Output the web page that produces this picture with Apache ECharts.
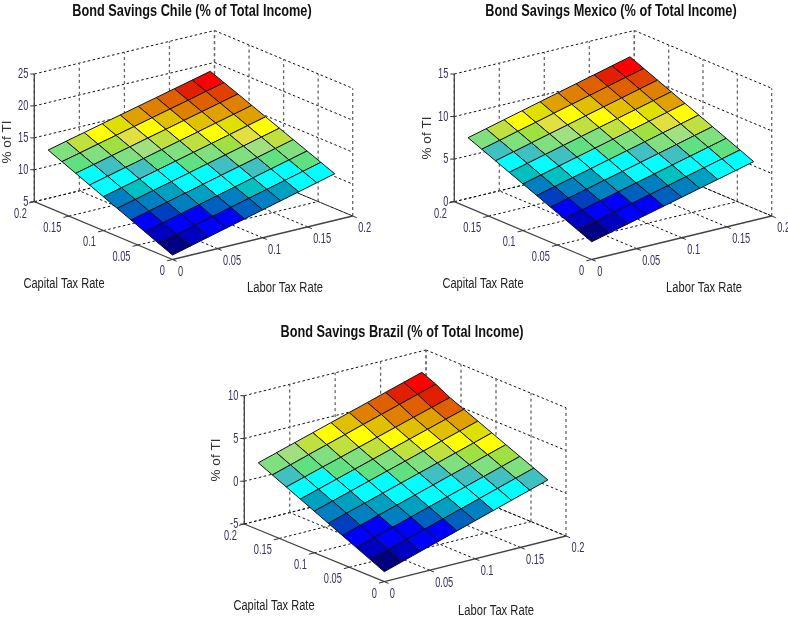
<!DOCTYPE html>
<html><head><meta charset="utf-8">
<style>html,body{margin:0;padding:0;background:#fff}#c{width:788px;height:618px}</style>
<script src="https://cdn.jsdelivr.net/npm/echarts@6/dist/echarts.min.js"></script>
</head><body><div id="c"></div>
<script>
// Axis ticks
const capTicks = [0, 0.05, 0.1, 0.15, 0.2];
const labTicks = [0, 0.05, 0.1, 0.15, 0.2];
const tickText = ['0', '0.05', '0.1', '0.15', '0.2'];
const rates = [0, 0.02, 0.04, 0.06, 0.08, 0.1, 0.12, 0.14, 0.16, 0.18];
const chileTicks = [5, 10, 15, 20, 25];
const mexicoTicks = [0, 5, 10, 15];
const brazilTicks = [-5, 0, 5, 10];
// Surface heights: one row per capital tax rate, one column per labor tax rate
const chileZ = [
[5.7,6.43,7.17,7.9,8.63,9.37,10.1,10.83,11.57,12.3],
[6.62,7.35,8.08,8.81,9.54,10.27,10.99,11.72,12.45,13.18],
[7.54,8.26,8.99,9.71,10.44,11.16,11.89,12.61,13.33,14.06],
[8.47,9.19,9.9,10.62,11.34,12.06,12.77,13.49,14.21,14.93],
[9.39,10.1,10.82,11.53,12.24,12.96,13.67,14.38,15.1,15.81],
[10.31,11.02,11.73,12.44,13.15,13.85,14.56,15.27,15.98,16.69],
[11.23,11.93,12.64,13.34,14.05,14.75,15.45,16.16,16.86,17.57],
[12.16,12.86,13.56,14.26,14.96,15.65,16.35,17.05,17.75,18.45],
[13.08,13.77,14.47,15.16,15.85,16.55,17.24,17.93,18.63,19.32],
[14,14.69,15.38,16.07,16.76,17.44,18.13,18.82,19.51,20.2]];
const mexicoZ = [
[2.08,2.62,3.15,3.69,4.22,4.76,5.29,5.83,6.36,6.9],
[2.76,3.3,3.83,4.37,4.91,5.44,5.98,6.52,7.05,7.59],
[3.44,3.98,4.52,5.05,5.59,6.13,6.67,7.2,7.74,8.28],
[4.12,4.66,5.2,5.74,6.27,6.81,7.35,7.89,8.43,8.97],
[4.8,5.34,5.88,6.42,6.96,7.5,8.04,8.58,9.12,9.66],
[5.48,6.02,6.56,7.1,7.64,8.18,8.72,9.26,9.8,10.34],
[6.16,6.7,7.24,7.79,8.33,8.87,9.41,9.95,10.49,11.03],
[6.84,7.38,7.93,8.47,9.01,9.56,10.1,10.64,11.18,11.72],
[7.52,8.06,8.61,9.15,9.7,10.24,10.78,11.33,11.87,12.41],
[8.2,8.74,9.29,9.83,10.38,10.92,11.47,12.01,12.56,13.1]];
const brazilZ = [
[-3.83,-3.17,-2.51,-1.86,-1.2,-0.54,0.12,0.78,1.43,2.09],
[-3.09,-2.44,-1.78,-1.13,-0.47,0.18,0.84,1.49,2.15,2.8],
[-2.35,-1.7,-1.05,-0.4,0.25,0.9,1.54,2.19,2.84,3.49],
[-1.61,-0.97,-0.32,0.32,0.97,1.61,2.26,2.9,3.55,4.19],
[-0.87,-0.23,0.41,1.05,1.69,2.33,2.97,3.61,4.25,4.89],
[-0.13,0.51,1.14,1.78,2.42,3.05,3.69,4.33,4.96,5.6],
[0.61,1.24,1.87,2.51,3.14,3.77,4.4,5.03,5.67,6.3],
[1.35,1.98,2.61,3.23,3.86,4.49,5.12,5.75,6.37,7],
[2.09,2.73,3.38,4.02,4.66,5.31,5.95,6.59,7.23,7.88],
[2.83,3.47,4.11,4.75,5.39,6.03,6.67,7.32,7.96,8.6]];
// Colour-scale bin of each facet
const chileShade = [
[0,1,2,2,4,5,6,8,8],
[1,2,2,4,5,7,8,8,10],
[2,3,5,6,8,8,9,10,11],
[4,5,6,8,8,9,11,12,14],
[5,7,8,8,10,11,13,15,16],
[8,8,9,10,11,14,16,17,19],
[8,9,11,12,14,16,18,19,20],
[10,11,13,15,16,18,20,21,22],
[11,14,16,17,19,20,21,23,24]];
const mexicoShade = [
[0,1,2,2,4,5,6,8,8],
[1,2,2,4,5,7,8,8,10],
[2,3,5,6,8,8,9,10,11],
[3,5,6,8,8,9,11,12,14],
[5,7,8,8,10,11,13,15,16],
[7,8,9,10,11,14,16,17,19],
[8,9,11,12,14,16,18,19,20],
[9,11,13,15,16,18,20,21,22],
[11,14,16,17,19,20,21,23,24]];
const brazilShade = [
[0,1,2,2,4,5,8,8,9],
[1,2,2,4,6,8,8,9,11],
[2,2,5,6,8,8,9,11,13],
[3,5,6,8,8,9,11,13,16],
[5,6,8,8,10,11,14,16,17],
[6,8,8,10,11,14,16,18,19],
[8,8,10,11,14,16,18,19,21],
[9,10,11,14,16,18,20,21,23],
[11,12,14,16,18,20,21,23,24]];
const palette = ['#000080','#0000c0','#0000ff','#0040c0','#0060c0','#0080c0','#00a0c0','#00c0c0','#00ffff','#40c0c0','#60e080','#80e080','#a0e080','#a0e040','#c0e040','#e0e040','#ffff00','#e0e000','#e0c000','#e0a000','#e08000','#e06000','#e04000','#e02000','#ff0000'];

const FONT = '"Liberation Sans",Arial,sans-serif';
const panels = [
 {title:'Bond Savings Chile (% of Total Income)', z:chileZ, shade:chileShade, zTicks:chileTicks,
  O:[172.5,259.5], L:[34.3,201.7], R:[352.7,216], h:127.7,
  tc:[192,12], cl:[64,284], ll:[285,288], zl:[7.5,142]},
 {title:'Bond Savings Mexico (% of Total Income)', z:mexicoZ, shade:mexicoShade, zTicks:mexicoTicks,
  O:[591.7,259.5], L:[454.3,201.7], R:[771.7,216], h:127.7,
  tc:[611,12], cl:[483,284], ll:[704,288], zl:[427,138]},
 {title:'Bond Savings Brazil (% of Total Income)', z:brazilZ, shade:brazilShade, zTicks:brazilTicks,
  O:[384.3,581.7], L:[244.3,524], R:[566,536], h:128.3,
  tc:[402,333], cl:[274,606], ll:[496,611], zl:[216,460]}
];

const grids=[], xAxes=[], yAxes=[], series=[];
panels.forEach((p,idx)=>{
  const by=p.L[1]+p.R[1]-p.O[1];
  const left=p.L[0], width=p.R[0]-p.L[0], top=by-p.h, height=p.O[1]-top;
  grids.push({left:left, top:top, width:width, height:height, show:false});
  xAxes.push({type:'value', gridIndex:idx, min:0, max:width, show:false});
  yAxes.push({type:'value', gridIndex:idx, min:0, max:height, inverse:true, show:false});
  const zMin=p.zTicks[0], zMax=p.zTicks[p.zTicks.length-1];
  // project (capital rate, labor rate, height) to this grid's axes
  const proj=(api,cap,lab,z)=>{
    const c=cap/0.2, l=lab/0.2, t=(z-zMin)/(zMax-zMin);
    return api.coord([
      p.O[0]+c*(p.L[0]-p.O[0])+l*(p.R[0]-p.O[0])-left,
      p.O[1]+c*(p.L[1]-p.O[1])+l*(p.R[1]-p.O[1])-t*p.h-top]);
  };
  const dashH={stroke:'#111',lineWidth:1,lineDash:[2.5,2.5]};
  const dashV={stroke:'#666',lineWidth:1.3,lineDash:[3,3]};
  const solid={stroke:'#444',lineWidth:1.3};
  const line=(a,b,style)=>({type:'line',shape:{x1:a[0],y1:a[1],x2:b[0],y2:b[1]},style:style});
  const txt=(s,x,y,align,font,fill,rot,sx)=>({type:'text',x:x,y:y,rotation:rot||0,scaleX:sx||1,
     style:{text:s,x:0,y:0,align:align,verticalAlign:'middle',font:font,fill:fill}});
  series.push({type:'custom',xAxisIndex:idx,yAxisIndex:idx,silent:true,animation:false,clip:false,z:1,
    data:[[0,0]],
    renderItem:(params,api)=>{
      const ch=[];
      p.zTicks.forEach(z=>{
        ch.push(line(proj(api,.2,0,z),proj(api,.2,.2,z),dashH));
        ch.push(line(proj(api,.2,.2,z),proj(api,0,.2,z),dashH));
      });
      capTicks.forEach((c,k)=>{
        if(k>0) ch.push(line(proj(api,c,0,zMin),proj(api,c,.2,zMin),dashH));
        ch.push(line(proj(api,c,.2,zMin),proj(api,c,.2,zMax),dashV));
      });
      labTicks.forEach((l,k)=>{
        if(k>0) ch.push(line(proj(api,0,l,zMin),proj(api,.2,l,zMin),dashH));
        ch.push(line(proj(api,.2,l,zMin),proj(api,.2,l,zMax),dashV));
      });
      // solid axes
      ch.push(line(proj(api,.2,0,zMin),proj(api,.2,0,zMax),solid));
      ch.push(line(proj(api,.2,0,zMin),proj(api,0,0,zMin),solid));
      ch.push(line(proj(api,0,0,zMin),proj(api,0,.2,zMin),solid));
      // ticks
      const tk={stroke:'#333',lineWidth:1};
      const tickFont='14px '+FONT, tickFill='#3b2f63', tsx=0.66;
      p.zTicks.forEach(z=>{
        const a=proj(api,.2,0,z);
        ch.push(line(a,[a[0]-4,a[1]],tk));
        ch.push(txt(String(z),a[0]-6,a[1]+0.5,'right',tickFont,tickFill,0,tsx));
      });
      capTicks.forEach((c,k)=>{
        const a=proj(api,c,0,zMin), b=proj(api,c,-0.006,zMin);
        ch.push(line(a,b,tk));
        ch.push(txt(tickText[k],a[0]-7.5,a[1]+12,'right',tickFont,tickFill,0,tsx));
      });
      labTicks.forEach((l,k)=>{
        const a=proj(api,0,l,zMin), b=proj(api,-0.006,l,zMin);
        ch.push(line(a,b,tk));
        ch.push(txt(tickText[k],a[0]+5.5,a[1]+12.5,'left',tickFont,tickFill,0,tsx));
      });
      // axis titles and panel title
      const base=api.coord([0,0]);
      const dx=base[0]-left, dy=base[1]-top;
      const lab='14px '+FONT;
      ch.push(txt('Capital Tax Rate',p.cl[0]+dx,p.cl[1]+dy,'center',lab,'#222',0,0.79));
      ch.push(txt('Labor Tax Rate',p.ll[0]+dx,p.ll[1]+dy,'center',lab,'#222',0,0.8));
      ch.push(txt('% of TI',p.zl[0]+dx,p.zl[1]+dy,'center','13.5px '+FONT,'#333',Math.PI/2));
      ch.push(txt(p.title,p.tc[0]+dx,p.tc[1]+dy,'center','bold 16px '+FONT,'#111',0,0.795));
      return {type:'group',children:ch};
    }});
  // facets, far corner first
  const cells=[];
  for(let j=8;j>=0;j--) for(let i=8;i>=0;i--) {
    cells.push([rates[j],rates[i],rates[j+1],rates[i+1],p.z[j][i],p.z[j][i+1],p.z[j+1][i+1],p.z[j+1][i],p.shade[j][i]]);
  }
  series.push({type:'custom',xAxisIndex:idx,yAxisIndex:idx,silent:true,animation:false,clip:false,z:2,
    encode:{x:0,y:1},
    data:cells,
    renderItem:(params,api)=>{
      const c0=api.value(0),l0=api.value(1),c1=api.value(2),l1=api.value(3);
      const pts=[proj(api,c0,l0,api.value(4)),proj(api,c0,l1,api.value(5)),proj(api,c1,l1,api.value(6)),proj(api,c1,l0,api.value(7))];
      return {type:'polygon',shape:{points:pts},style:{fill:palette[api.value(8)],stroke:'#111',lineWidth:1}};
    }});
});
const chart=echarts.init(document.getElementById('c'),null,{renderer:'canvas'});
chart.setOption({animation:false,backgroundColor:'#fff',grid:grids,xAxis:xAxes,yAxis:yAxes,series:series});
</script></body></html>
